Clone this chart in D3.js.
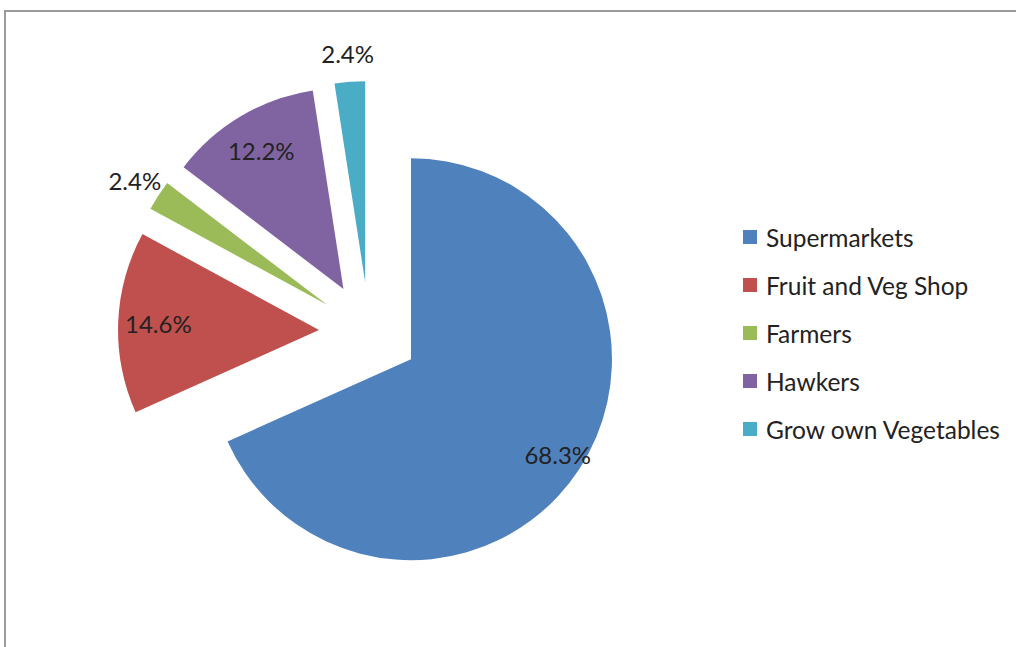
<!DOCTYPE html>
<html>
<head>
<meta charset="utf-8">
<script src="https://cdn.jsdelivr.net/npm/d3@7"></script>
<style>
  body { margin: 0; background: #fff; }
  svg { display: block; }
  text { font-family: Lato, "Open Sans", sans-serif; fill: #222; }
</style>
</head>
<body>
<div id="chart"></div>
<script>
// survey answers (n = 41)
const categories = ["Supermarkets", "Fruit and Veg Shop", "Farmers", "Hawkers", "Grow own Vegetables"];
const counts = [28, 6, 1, 5, 1];
const colors = ["#4F81BD", "#C0504D", "#9BBB59", "#8064A2", "#4BACC6"];

const width = 1016, height = 647;
const cx = 369, cy = 332;
const radius = 201;
const explode = 50;

const svg = d3.select("#chart").append("svg")
    .attr("width", width)
    .attr("height", height);

// chart frame, runs off the right and bottom edge
svg.append("rect")
    .attr("x", 5).attr("y", 11)
    .attr("width", 1100).attr("height", 700)
    .attr("fill", "none")
    .attr("stroke", "#9a9a9a")
    .attr("stroke-width", 2);

const total = d3.sum(counts);
const pie = d3.pie().sort(null)(counts);
const arc = d3.arc().innerRadius(0).outerRadius(radius);
const fmt = d => (d / total * 100).toFixed(1) + "%";

const g = svg.append("g").attr("transform", `translate(${cx},${cy})`);

function offset(d, dist) {
    const a = (d.startAngle + d.endAngle) / 2;
    return [Math.sin(a) * dist, -Math.cos(a) * dist];
}

const slices = g.selectAll("g.slice")
    .data(pie)
    .enter().append("g")
    .attr("class", "slice")
    .attr("transform", d => {
        const [dx, dy] = offset(d, explode);
        return `translate(${dx},${dy})`;
    });

slices.append("path")
    .attr("d", arc)
    .attr("fill", (d, i) => colors[i]);

slices.append("text")
    .attr("transform", d => {
        const share = d.value / total;
        const dist = share < 0.05 ? radius + 28 : radius * (share > 0.5 ? 0.87 : 0.8);
        const [x, y] = offset(d, dist);
        return `translate(${x},${y})`;
    })
    .attr("text-anchor", "middle")
    .attr("dominant-baseline", "central")
    .style("font-size", "24px")
    .text(d => fmt(d.value));

// legend
const legend = svg.append("g").attr("transform", "translate(743,237)");
const items = legend.selectAll("g")
    .data(categories)
    .enter().append("g")
    .attr("transform", (d, i) => `translate(0,${i * 48})`);

items.append("rect")
    .attr("x", 0).attr("y", -7)
    .attr("width", 14).attr("height", 14)
    .attr("fill", (d, i) => colors[i]);

items.append("text")
    .attr("x", 23)
    .attr("dominant-baseline", "central")
    .style("font-size", "24.5px")
    .text(d => d);
</script>
</body>
</html>
